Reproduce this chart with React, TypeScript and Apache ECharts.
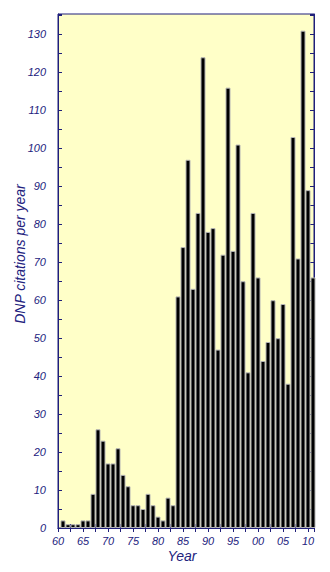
import React, { useEffect, useRef } from "react";
import * as echarts from "echarts";

const years = [
  1961, 1962, 1963, 1964, 1965, 1966, 1967, 1968, 1969, 1970,
  1971, 1972, 1973, 1974, 1975, 1976, 1977, 1978, 1979, 1980,
  1981, 1982, 1983, 1984, 1985, 1986, 1987, 1988, 1989, 1990,
  1991, 1992, 1993, 1994, 1995, 1996, 1997, 1998, 1999, 2000,
  2001, 2002, 2003, 2004, 2005, 2006, 2007, 2008, 2009, 2010, 2011,
];
const citations = [
  2, 1, 1, 1, 2, 2, 9, 26, 23, 17,
  17, 21, 14, 11, 6, 6, 5, 9, 6, 3,
  2, 8, 6, 61, 74, 97, 63, 83, 124, 78,
  79, 47, 72, 116, 73, 101, 65, 41, 83, 66,
  44, 49, 60, 50, 59, 38, 103, 71, 131, 89, 66,
];

const NAVY = "#1f1f7a";
const LABEL = "#22227e";
const FONT = "'Liberation Sans', Arial, sans-serif";

export default function App() {
  const ref = useRef<HTMLDivElement>(null);
  useEffect(() => {
    if (!ref.current) return;
    const chart = echarts.init(ref.current, null, { renderer: "svg" });
    const axisCommon = {
      axisLine: { show: true, lineStyle: { color: NAVY, width: 1 } },
      axisTick: { show: true, inside: true, length: 4, lineStyle: { color: NAVY } },
      minorTick: { show: true, splitNumber: 2, length: 4, lineStyle: { color: NAVY } },
      splitLine: { show: false },
    };
    chart.setOption({
      animation: false,
      backgroundColor: "#ffffff",
      grid: {
        left: 58,
        right: 16,
        top: 14,
        bottom: 44,
        show: true,
        backgroundColor: "#ffffc8",
        borderColor: NAVY,
        borderWidth: 1,
      },
      xAxis: [
        {
          type: "value",
          min: 1960,
          max: 2011.2,
          interval: 5,
          position: "bottom",
          ...axisCommon,
          axisLabel: {
            color: LABEL,
            fontStyle: "italic",
            fontFamily: FONT,
            fontSize: 11,
            margin: 7,
            showMaxLabel: false,
            formatter: (v: number) => String(Math.round(v) % 100).padStart(2, "0"),
          },
        },
        {
          type: "value",
          min: 1960,
          max: 2011.2,
          interval: 5,
          position: "top",
          ...axisCommon,
          axisLabel: { show: false },
        },
      ],
      yAxis: [
        {
          type: "value",
          min: 0,
          max: 135.4,
          interval: 10,
          position: "left",
          ...axisCommon,
          axisLabel: {
            color: LABEL,
            fontStyle: "italic",
            fontFamily: FONT,
            fontSize: 11,
            margin: 12,
            showMaxLabel: false,
          },
        },
        {
          type: "value",
          min: 0,
          max: 135.4,
          interval: 10,
          position: "right",
          ...axisCommon,
          axisLabel: { show: false },
        },
      ],
      series: [
        {
          type: "bar",
          xAxisIndex: 0,
          yAxisIndex: 0,
          barWidth: 5,
          clip: true,
          data: years.map((y, i) => [y, citations[i]]),
          itemStyle: { color: "#000000", borderColor: "#b4b4b4", borderWidth: 1 },
        },
      ],
      graphic: [
        {
          type: "text",
          x: 20,
          y: 254,
          rotation: Math.PI / 2,
          style: {
            text: "DNP citations per year",
            fill: LABEL,
            font: `italic 14px ${FONT}`,
            textAlign: "center",
            textVerticalAlign: "middle",
          },
        },
        {
          type: "text",
          x: 182,
          y: 556,
          style: {
            text: "Year",
            fill: LABEL,
            font: `italic 14px ${FONT}`,
            textAlign: "center",
            textVerticalAlign: "middle",
          },
        },
      ],
    });
    return () => chart.dispose();
  }, []);
  return <div ref={ref} style={{ width: 330, height: 572, position: "absolute", left: 0, top: 0 }} />;
}
